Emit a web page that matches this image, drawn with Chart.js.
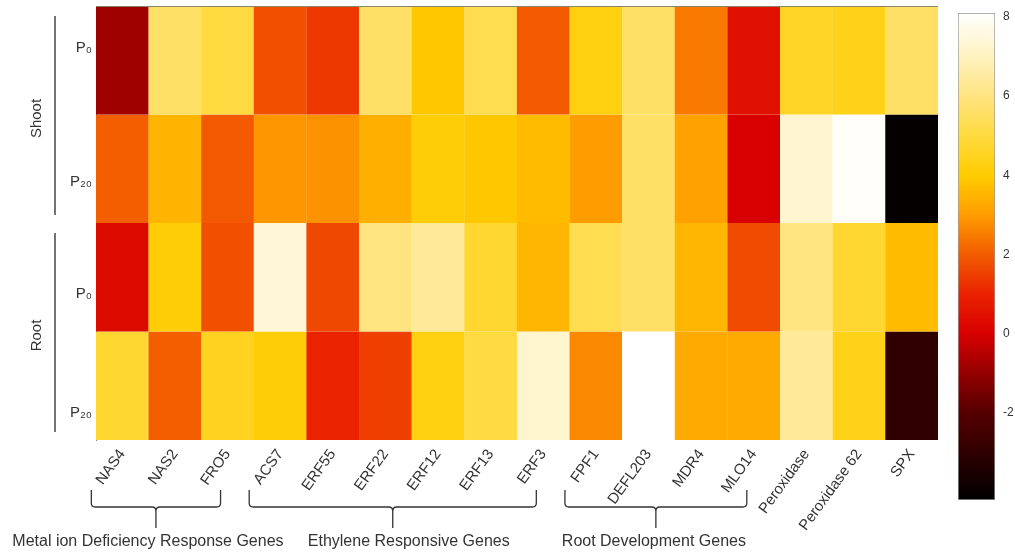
<!DOCTYPE html>
<html lang="en">
<head>
<meta charset="UTF-8">
<title>Gene expression heatmap</title>
<script src="https://cdn.jsdelivr.net/npm/chart.js"></script>
<style>
  html, body { margin: 0; padding: 0; background: #fff; }
  #wrap { position: relative; width: 1015px; height: 553px; }
  #heat { position: absolute; left: 0; top: 0; }
  #cbar { position: absolute; left: 940px; top: 0; }
</style>
</head>
<body>
<div id="wrap">
  <canvas id="heat" width="1015" height="553"></canvas>
  <canvas id="cbar" width="75" height="553"></canvas>
</div>
<script>
const genes = ['NAS4', 'NAS2', 'FRO5', 'ACS7', 'ERF55', 'ERF22', 'ERF12', 'ERF13', 'ERF3',
               'FPF1', 'DEFL203', 'MDR4', 'MLO14', 'Peroxidase', 'Peroxidase 62', 'SPX'];
const rowLabels = ['P₀', 'P₂₀', 'P₀', 'P₂₀'];
const tissues = ['Shoot', 'Root'];

const shootP0  = [-0.85, 5.6, 5.0, 1.8, 1.4, 5.6, 3.9, 5.25, 1.95, 4.25, 5.6, 2.45, 0.5, 4.6, 4.4, 5.6];
const shootP20 = [2.05, 3.5, 1.95, 2.9, 2.85, 3.4, 4.1, 3.9, 3.65, 3.0, 5.6, 3.1, 0.0, 7.3, 8.0, -4.1];
const rootP0   = [0.3, 4.1, 1.8, 7.4, 1.65, 6.0, 6.4, 4.75, 3.55, 5.25, 5.6, 3.55, 1.7, 6.0, 4.75, 3.65];
const rootP20  = [4.75, 2.05, 4.5, 4.1, 1.0, 1.5, 4.25, 5.0, 7.25, 2.7, 8.1, 3.3, 3.3, 6.4, 4.4, -3.0];
const rows = [shootP0, shootP20, rootP0, rootP20];

const groupNames = ['Metal ion Deficiency Response Genes', 'Ethylene Responsive Genes', 'Root Development Genes'];
const groupFirst = [0, 3, 9];
const groupLast = [2, 8, 12];

const cbarTicks = [-2, 0, 2, 4, 6, 8];
const vMin = -4.2, vMax = 8.1;

// colour map
const cmapStops = [
  [-4.2, [0, 0, 0]], [-3, [48, 0, 0]], [-2, [85, 0, 0]], [-1, [149, 0, 0]],
  [0, [216, 0, 0]], [1, [234, 34, 0]], [2, [242, 92, 0]], [3, [255, 156, 0]],
  [4, [255, 204, 0]], [5, [255, 218, 64]], [6, [255, 228, 128]], [7, [255, 242, 192]],
  [8.1, [255, 255, 255]]
];

// layout only: where the row labels sit, and label offsets under the brackets
const rowLabelAt = [0.39, 1.62, 2.65, 3.75];
const groupTextShift = [-8, 16, -2];

function colorFor(v) {
  v = Math.max(vMin, Math.min(vMax, v));
  for (let i = 1; i < cmapStops.length; i++) {
    const [v1, c1] = cmapStops[i];
    const [v0, c0] = cmapStops[i - 1];
    if (v <= v1) {
      const t = (v - v0) / (v1 - v0);
      const c = c0.map((a, k) => Math.round(a + (c1[k] - a) * t));
      return `rgb(${c[0]},${c[1]},${c[2]})`;
    }
  }
  return '#fff';
}

const fontFamily = "Arial, 'Liberation Sans', 'DejaVu Sans', sans-serif";
const textColor = '#333';

const decor = {
  id: 'decor',
  afterDraw(chart) {
    const { ctx, chartArea, scales: { x, y } } = chart;
    ctx.save();
    // top border of plot
    ctx.strokeStyle = '#8c8466';
    ctx.lineWidth = 1;
    ctx.beginPath();
    ctx.moveTo(chartArea.left, chartArea.top + 0.5);
    ctx.lineTo(chartArea.right, chartArea.top + 0.5);
    ctx.stroke();

    // tissue group lines and names
    ctx.strokeStyle = '#444';
    ctx.lineWidth = 1.5;
    ctx.fillStyle = textColor;
    ctx.font = `15px ${fontFamily}`;
    ctx.textAlign = 'center';
    ctx.textBaseline = 'middle';
    tissues.forEach((name, i) => {
      const top = y.getPixelForValue(i * 2) + 10;
      const bot = y.getPixelForValue(i * 2 + 2) - 8;
      ctx.beginPath();
      ctx.moveTo(55, top);
      ctx.lineTo(55, bot);
      ctx.stroke();
      ctx.save();
      ctx.translate(37, (top + bot) / 2 + 3);
      ctx.rotate(-Math.PI / 2);
      ctx.fillText(name, 0, 0);
      ctx.restore();
    });

    // gene group brackets
    ctx.strokeStyle = '#333';
    ctx.lineWidth = 1.3;
    ctx.font = `16px ${fontFamily}`;
    ctx.textBaseline = 'alphabetic';
    groupNames.forEach((name, i) => {
      const l = x.getPixelForValue(groupFirst[i]) - 31;
      const r = x.getPixelForValue(groupLast[i]) - 7;
      const m = (l + r) / 2;
      const t = 490, h = 507, b = 528, rad = 4;
      ctx.beginPath();
      ctx.moveTo(l, t);
      ctx.lineTo(l, h - rad);
      ctx.quadraticCurveTo(l, h, l + rad, h);
      ctx.lineTo(m - rad, h);
      ctx.quadraticCurveTo(m, h, m, h + rad);
      ctx.lineTo(m, b);
      ctx.moveTo(m, h + rad);
      ctx.quadraticCurveTo(m, h, m + rad, h);
      ctx.lineTo(r - rad, h);
      ctx.quadraticCurveTo(r, h, r, h - rad);
      ctx.lineTo(r, t);
      ctx.stroke();
      ctx.fillText(name, m + groupTextShift[i], 546);
    });
    ctx.restore();
  }
};

new Chart(document.getElementById('heat'), {
  type: 'bar',
  data: {
    labels: genes,
    datasets: rows.map((vals, r) => ({
      label: rowLabels[r],
      data: genes.map(() => [r, r + 1]),
      backgroundColor: vals.map(colorFor),
      borderWidth: 0,
      grouped: false,
      barPercentage: 1.004,
      categoryPercentage: 1
    }))
  },
  options: {
    responsive: false,
    animation: false,
    layout: { padding: { left: 0, right: 77, top: 6, bottom: 0 } },
    plugins: { legend: { display: false }, tooltip: { enabled: false } },
    scales: {
      x: {
        grid: { display: false, drawTicks: false },
        border: { display: false },
        ticks: {
          autoSkip: false, minRotation: 54, maxRotation: 54, padding: 6,
          color: textColor, font: { family: fontFamily, size: 15 }
        },
        afterFit: s => { s.height = 113; s.paddingLeft = 0; s.paddingRight = 0; }
      },
      y: {
        min: 0, max: 4, reverse: true,
        grid: { display: false, drawTicks: false },
        border: { display: true, color: '#8c8466' },
        afterBuildTicks: s => { s.ticks = rowLabelAt.map(v => ({ value: v })); },
        ticks: {
          callback: (v, i) => rowLabels[i], padding: 4,
          color: textColor, font: { family: fontFamily, size: 15 }
        },
        afterFit: s => { s.width = 96; s.paddingTop = 0; s.paddingBottom = 0; }
      }
    }
  },
  plugins: [decor]
});

new Chart(document.getElementById('cbar'), {
  type: 'bar',
  data: {
    labels: [''],
    datasets: [{
      data: [[vMin, vMax]],
      backgroundColor: c => {
        const ch = c.chart;
        if (!ch.chartArea) return '#000';
        const ys = ch.scales.y;
        const g = ch.ctx.createLinearGradient(0, ys.getPixelForValue(vMin), 0, ys.getPixelForValue(vMax));
        cmapStops.forEach(([v, col]) => g.addColorStop((v - vMin) / (vMax - vMin), `rgb(${col.join(',')})`));
        return g;
      },
      borderColor: '#9a9a9a',
      borderWidth: 1,
      borderSkipped: false,
      barPercentage: 1,
      categoryPercentage: 1
    }]
  },
  options: {
    responsive: false,
    animation: false,
    layout: { padding: { left: 18, top: 13, bottom: 53, right: 0 } },
    plugins: { legend: { display: false }, tooltip: { enabled: false } },
    scales: {
      x: { display: false },
      y: {
        position: 'right', min: vMin, max: vMax,
        grid: { display: false, drawTicks: false },
        border: { display: false },
        afterBuildTicks: s => { s.ticks = cbarTicks.map(v => ({ value: v })); },
        ticks: { padding: 8, color: textColor, font: { family: fontFamily, size: 12 } },
        afterFit: s => { s.width = 20; s.paddingTop = 0; s.paddingBottom = 0; }
      }
    }
  }
});
</script>
</body>
</html>
